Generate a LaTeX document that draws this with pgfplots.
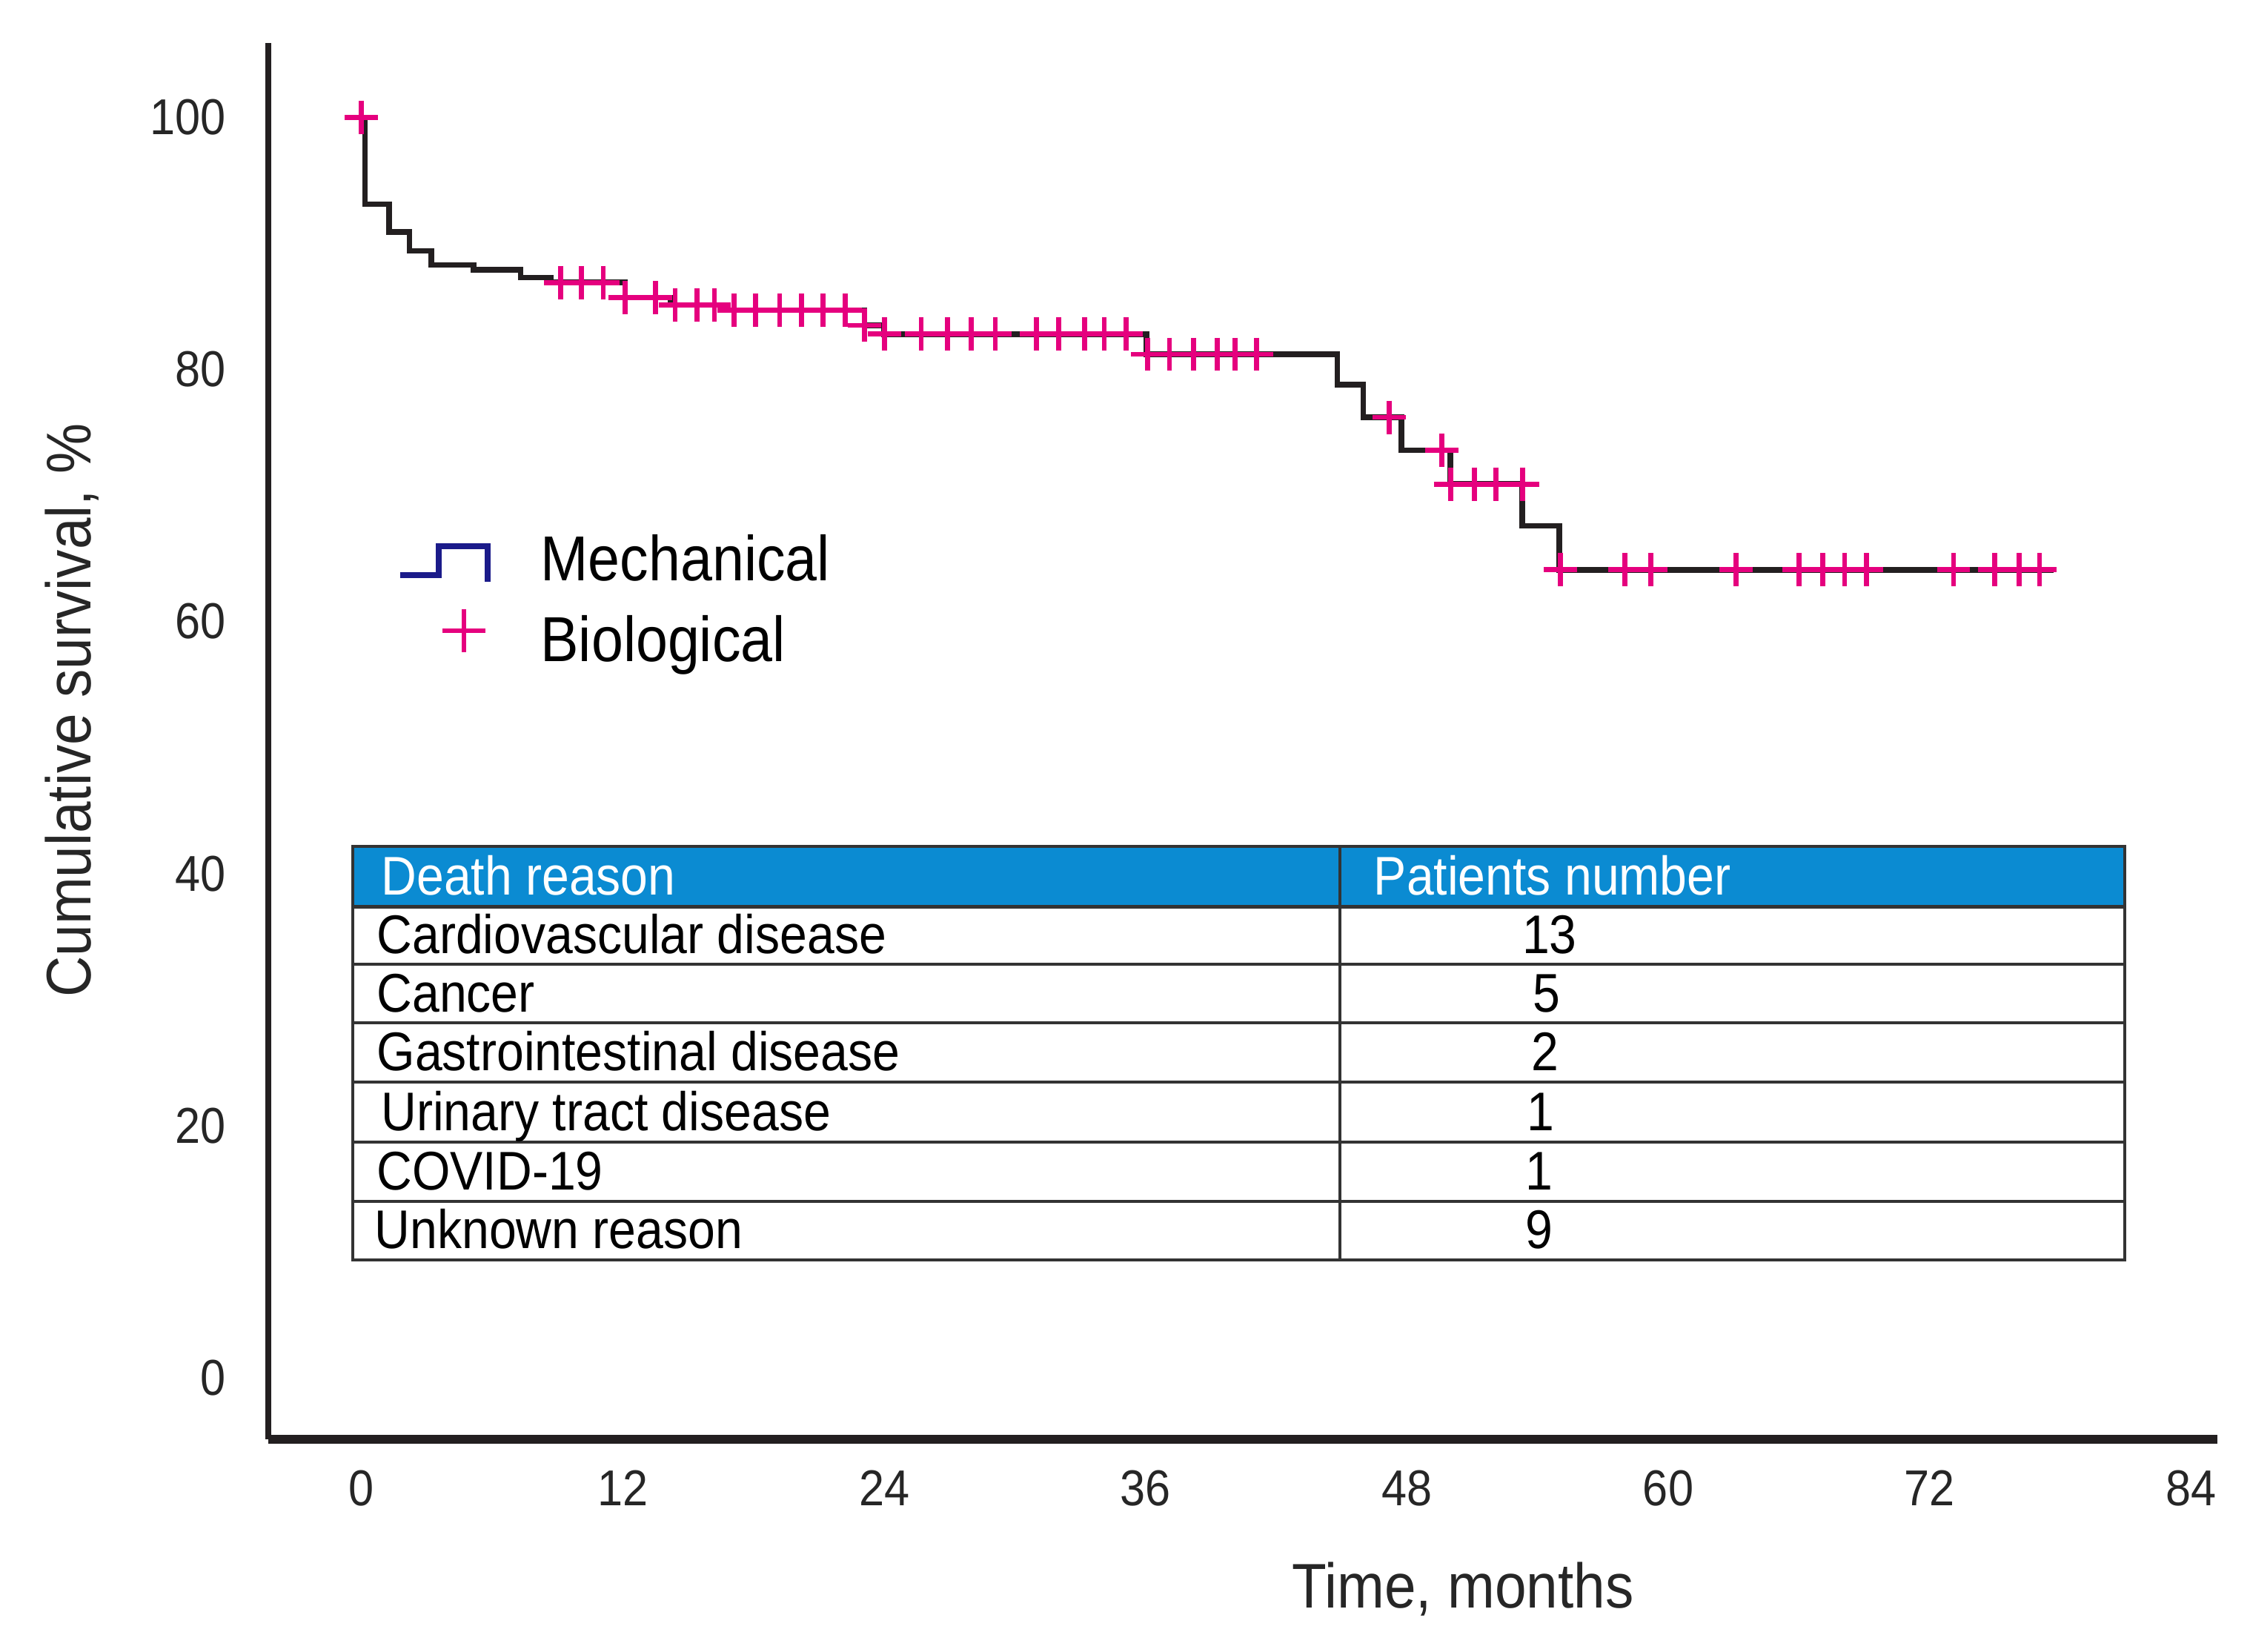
\documentclass[border=0pt]{standalone}
\usepackage{pgfplots}
\pgfplotsset{compat=1.18}
\usepackage{fontspec}
\setmainfont{Liberation Sans}[FakeStretch=0.9]

\definecolor{kmline}{HTML}{231F20}
\definecolor{censor}{HTML}{E5007E}
\definecolor{mech}{HTML}{1B1B8A}
\definecolor{hdr}{HTML}{0B8BD2}
\definecolor{rule}{HTML}{333333}

% Kaplan-Meier steps (time in months, survival in %)
\pgfplotstableread{
t    s
0    100
0.15 93.1
1.26 90.9
2.2  89.4
3.2  88.3
5.15 87.9
7.3  87.3
8.7  86.9
12.1 85.7
14.2 85.1
16.8 84.7
23.1 83.5
24.0 82.8
36.05 81.2
44.8 78.8
46.0 76.2
47.75 73.6
50.0 70.9
53.3 67.6
55.0 64.1
77.7 64.1
}\kmsteps

% censored observations
\pgfplotstableread{
t    s
0    100
9.15 86.9
10.1 86.9
11.1 86.9
12.1 85.7
13.5 85.7
14.4 85.1
15.4 85.1
16.2 85.1
17.1 84.7
18.1 84.7
19.2 84.7
20.2 84.7
21.2 84.7
22.2 84.7
23.1 83.5
24.0 82.8
25.7 82.8
26.9 82.8
28.0 82.8
29.1 82.8
31.0 82.8
32.0 82.8
33.2 82.8
34.1 82.8
35.1 82.8
36.1 81.2
37.1 81.2
38.2 81.2
39.3 81.2
40.1 81.2
41.1 81.2
47.2 76.2
49.6 73.6
50.0 70.9
51.1 70.9
52.1 70.9
53.3 70.9
55.05 64.1
58.0 64.1
59.2 64.1
63.1 64.1
66.0 64.1
67.1 64.1
68.1 64.1
69.1 64.1
73.1 64.1
75.0 64.1
76.1 64.1
77.05 64.1
}\censored

\begin{document}
\begin{tikzpicture}
\begin{axis}[
  scale only axis, width=13.58cm, height=9.73cm,
  xmin=-4.28, xmax=85.2, ymin=-4.9, ymax=105.9,
  axis lines=left,
  axis line style={-, kmline},
  x axis line style={line width=1.8pt},
  y axis line style={line width=1.3pt},
  xtick={0,12,...,84}, ytick={0,20,...,100},
  major tick length=0pt,
  /pgf/number format/assume math mode=true,
  tick label style={font=\fontsize{10}{12}\selectfont, text=black!85},
  xticklabel style={anchor=north, inner sep=0pt, yshift=-2.1mm},
  yticklabel style={anchor=east, inner sep=0pt, xshift=-2.9mm},
  clip=false,
  legend cell align=left,
  legend style={at={(rel axis cs:0.0655,0.6485)}, anchor=north west,
    draw=none, fill=none, inner sep=0pt, row sep=0.9mm, column sep=0pt,
    font=\fontsize{12.6}{14}\selectfont,
    nodes={inner sep=0pt, text height=3.2mm, text depth=0.9mm}},
]
\addlegendimage{legend image code/.code={
  \draw[mech, line width=1.2pt] (0,-0.75mm) -- (2.7mm,-0.75mm) -- (2.7mm,1.25mm)
    -- (6.1mm,1.25mm) -- (6.1mm,-1.2mm);
  \path[draw=none] (0,0) -- (9.8mm,0);}}
\addlegendentry{Mechanical}
\addlegendimage{legend image code/.code={
  \draw[censor, line width=1.0pt] (2.95mm,1.0mm) -- (5.95mm,1.0mm)
    (4.45mm,-0.5mm) -- (4.45mm,2.5mm);
  \path[draw=none] (0,0) -- (9.8mm,0);}}
\addlegendentry{Biological}

\addplot[const plot, kmline, line width=1.1pt, forget plot] table[x=t, y=s] {\kmsteps};
\addplot[only marks, mark=+, mark size=3.3pt, censor,
  mark options={line width=1.0pt}, forget plot] table[x=t, y=s] {\censored};

% death reasons table
\fill[hdr] (axis cs:-0.40,42.14) rectangle (axis cs:80.96,37.36);
\draw[rule, line width=0.6pt] (axis cs:-0.40,42.14) rectangle (axis cs:80.96,9.34);
\draw[rule, line width=0.6pt] (axis cs:-0.40,37.36) -- (axis cs:80.96,37.36);
\draw[rule, line width=0.6pt] (axis cs:-0.40,32.80) -- (axis cs:80.96,32.80);
\draw[rule, line width=0.6pt] (axis cs:-0.40,28.13) -- (axis cs:80.96,28.13);
\draw[rule, line width=0.6pt] (axis cs:-0.40,23.46) -- (axis cs:80.96,23.46);
\draw[rule, line width=0.6pt] (axis cs:-0.40,18.68) -- (axis cs:80.96,18.68);
\draw[rule, line width=0.6pt] (axis cs:-0.40,14.01) -- (axis cs:80.96,14.01);
\draw[rule, line width=0.6pt] (axis cs:44.93,42.14) -- (axis cs:44.93,9.34);
\begin{scope}[every node/.style={inner sep=0pt, text height=0.72em, text depth=0pt,
    font=\fontsize{10.8}{13}\selectfont}]
\node[anchor=west, text=white] at (axis cs:0.86,39.75) {Death reason};
\node[anchor=west, text=white] at (axis cs:46.44,39.75) {Patients number};
\node[anchor=west] at (axis cs:0.66,35.08) {Cardiovascular disease};
\node[anchor=west] at (axis cs:0.66,30.47) {Cancer};
\node[anchor=west] at (axis cs:0.66,25.80) {Gastrointestinal disease};
\node[anchor=west] at (axis cs:0.86,21.07) {Urinary tract disease};
\node[anchor=west] at (axis cs:0.66,16.35) {COVID-19};
\node[anchor=west] at (axis cs:0.56,11.68) {Unknown reason};
\node at (axis cs:54.55,35.08) {13};
\node at (axis cs:54.41,30.47) {5};
\node at (axis cs:54.35,25.80) {2};
\node at (axis cs:54.15,21.07) {1};
\node at (axis cs:54.08,16.35) {1};
\node at (axis cs:54.08,11.68) {9};
\end{scope}

% axis titles
\node[rotate=90, font=\fontsize{12.5}{15}\selectfont, text=black!85]
  at (rel axis cs:-0.1009,0.522) {Cumulative survival, \%};
\node[font=\fontsize{12.5}{15}\selectfont, text=black!85]
  at (rel axis cs:0.613,-0.107) {Time, months};

% page extent
\path (rel axis cs:-0.1377,-0.1521) rectangle (rel axis cs:1.0169,1.0308);
\end{axis}
\end{tikzpicture}
\end{document}
